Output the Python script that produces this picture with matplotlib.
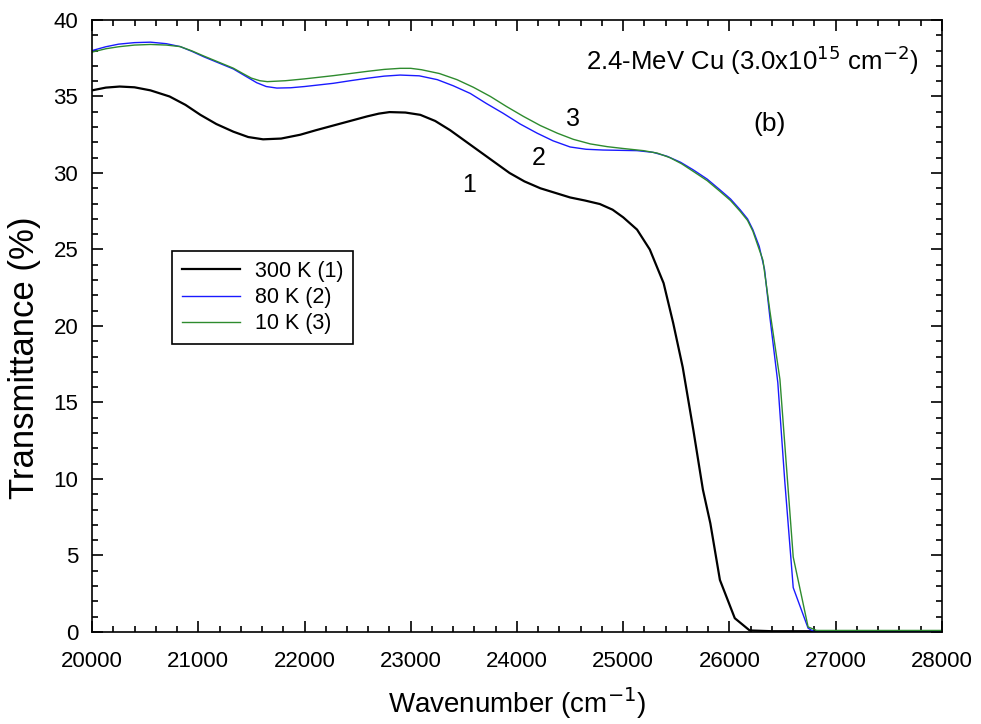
import matplotlib.pyplot as plt
from matplotlib.ticker import MultipleLocator

plt.rcParams['font.family'] = ['Liberation Sans', 'DejaVu Sans']
plt.rcParams['axes.unicode_minus'] = False

# ========================
# donnees
# ========================
w_300 = [20000, 20130, 20260, 20400, 20550, 20730, 20880, 21020, 21170, 21330,
         21470, 21610, 21780, 21960, 22110, 22270, 22430, 22590, 22700, 22800,
         22950, 23090, 23230, 23370, 23510, 23650, 23790, 23930, 24070, 24220,
         24360, 24500, 24640, 24780, 24900, 25000, 25130, 25250, 25380, 25470,
         25560, 25660, 25750, 25820, 25910, 26050, 26190, 26400, 28000]
t_300 = [35.4, 35.58, 35.65, 35.6, 35.4, 35.0, 34.45, 33.8, 33.2, 32.7,
         32.35, 32.2, 32.25, 32.5, 32.8, 33.1, 33.4, 33.7, 33.88, 33.98,
         33.95, 33.8, 33.4, 32.8, 32.1, 31.4, 30.7, 30.0, 29.45, 29.0,
         28.7, 28.4, 28.2, 27.97, 27.6, 27.1, 26.3, 25.0, 22.8, 20.2,
         17.3, 13.2, 9.3, 7.1, 3.4, 0.9, 0.1, 0.05, 0.05]

w_80 = [20000, 20130, 20250, 20400, 20550, 20700, 20830, 20940, 21050, 21190,
        21330, 21440, 21550, 21640, 21740, 21870, 22000, 22270, 22430, 22600,
        22750, 22900, 23080, 23250, 23400, 23560, 23710, 23870, 24030, 24190,
        24340, 24500, 24650, 24810, 24970, 25130, 25280, 25410, 25540, 25660,
        25790, 25910, 26010, 26100, 26170, 26220, 26280, 26330, 26380, 26455,
        26520, 26600, 26740, 26800, 28000]
t_80 = [38.0, 38.25, 38.42, 38.52, 38.55, 38.45, 38.26, 37.95, 37.6, 37.2,
        36.8, 36.35, 35.9, 35.65, 35.55, 35.57, 35.65, 35.86, 36.03, 36.2,
        36.33, 36.4, 36.35, 36.1, 35.7, 35.2, 34.55, 33.9, 33.2, 32.6,
        32.1, 31.7, 31.55, 31.5, 31.48, 31.46, 31.35, 31.1, 30.7, 30.2,
        29.6, 28.9, 28.3, 27.6, 27.0, 26.3, 25.2, 23.7, 20.6, 16.3,
        9.9, 2.9, 0.25, 0.0, 0.0]

w_10 = [20000, 20130, 20250, 20400, 20550, 20700, 20830, 20940, 21050, 21190,
        21330, 21420, 21500, 21580, 21650, 21820, 22000, 22270, 22430, 22600,
        22750, 22900, 23000, 23100, 23270, 23435, 23590, 23750, 23900, 24060,
        24220, 24380, 24530, 24690, 24850, 25000, 25190, 25320, 25440, 25550,
        25660, 25790, 25910, 26010, 26100, 26170, 26220, 26315, 26380, 26475,
        26600, 26740, 26820, 28000]
t_10 = [37.9, 38.12, 38.25, 38.36, 38.4, 38.36, 38.26, 37.98, 37.65, 37.25,
        36.85, 36.5, 36.2, 36.03, 35.97, 36.03, 36.15, 36.36, 36.5, 36.65,
        36.77, 36.84, 36.84, 36.75, 36.5, 36.1, 35.6, 35.0, 34.35, 33.7,
        33.1, 32.6, 32.2, 31.9, 31.72, 31.6, 31.46, 31.3, 31.0, 30.6,
        30.1, 29.5, 28.8, 28.2, 27.5, 26.9, 26.2, 24.3, 21.0, 16.5,
        4.9, 0.33, 0.1, 0.1]

# ========================
# trace
# ========================
fig = plt.figure(figsize=(9.81, 7.24), dpi=100)
ax = fig.add_axes([0.0938, 0.1271, 0.8664, 0.8453])

ax.plot(w_300, t_300, color='black', lw=1.6, label='300 K (1)')
ax.plot(w_80, t_80, color='#1a1aff', lw=1.0, label='80 K (2)')
ax.plot(w_10, t_10, color='#2e8b2e', lw=1.0, label='10 K (3)')

ax.set_xlim(20000, 28000)
ax.set_ylim(0, 40)
ax.xaxis.set_major_locator(MultipleLocator(1000))
ax.xaxis.set_minor_locator(MultipleLocator(200))
ax.yaxis.set_major_locator(MultipleLocator(5))
ax.yaxis.set_minor_locator(MultipleLocator(1))
ax.tick_params(which='both', direction='in', top=True, right=True, labelsize=16, width=1.2)
ax.tick_params(which='major', length=8)
ax.tick_params(which='minor', length=4)
ax.tick_params(axis='x', pad=14)
ax.tick_params(axis='y', pad=10)
for s in ax.spines.values():
    s.set_linewidth(1.2)

ax.set_xlabel('Wavenumber (cm$^{-1}$)', fontsize=20)
ax.set_ylabel('Transmittance (%)', fontsize=25)
ax.xaxis.set_label_coords(0.5, -0.086)
ax.yaxis.set_label_coords(-0.06, 0.448)

ax.text(27775, 36.3, '2.4-MeV Cu (3.0x10$^{15}$ cm$^{-2}$)', fontsize=18.5, ha='right', va='bottom')
ax.text(26380, 33.2, '(b)', fontsize=19, ha='center', va='center')
ax.text(23550, 29.2, '1', fontsize=18, ha='center', va='center')
ax.text(24200, 31.0, '2', fontsize=18, ha='center', va='center')
ax.text(24530, 33.5, '3', fontsize=18, ha='center', va='center')

leg = ax.legend(loc='upper left', bbox_to_anchor=(0.094, 0.6225), borderaxespad=0,
                fontsize=15.5, fancybox=False, framealpha=1, edgecolor='black',
                handlelength=2.7, handletextpad=0.7, labelspacing=0.25,
                borderpad=0.45)
leg.get_frame().set_linewidth(1.2)

plt.savefig('out.png', dpi=100)
